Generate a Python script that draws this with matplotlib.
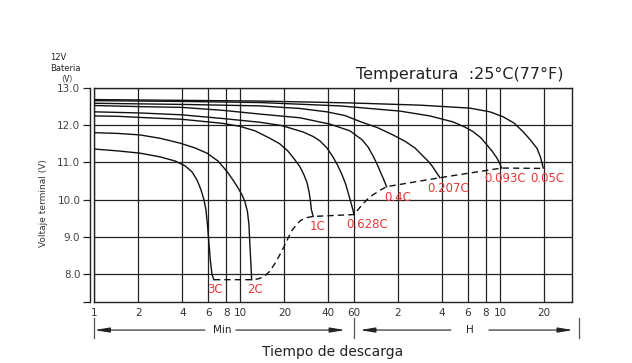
import numpy as np
import matplotlib.pyplot as plt

plt.rcParams['font.family'] = ['DejaVu Sans']

# discharge curves: time in minutes, terminal voltage in V
t_3c = [1.0, 1.449, 2.05, 2.81, 3.56, 4.17, 4.65, 5.04, 5.36, 5.62, 5.80, 5.94, 6.09, 6.23, 6.38, 6.58]
v_3c = [11.36, 11.31, 11.25, 11.15, 11.04, 10.91, 10.75, 10.53, 10.27, 10.0, 9.73, 9.33, 8.79, 8.34, 7.99, 7.85]

t_2c = [1.0, 1.449, 2.05, 2.81, 3.85, 4.88, 5.90, 7.01, 8.08, 8.88, 9.61, 10.24, 10.74, 11.16,
        11.43, 11.6, 11.80, 11.93]
v_2c = [11.80, 11.78, 11.74, 11.65, 11.52, 11.39, 11.25, 11.04, 10.76, 10.53, 10.32, 10.13, 9.94, 9.68,
        9.33, 8.79, 8.25, 7.85]

t_1c = [1.0, 1.449, 2.05, 3.97, 7.59, 9.92, 12.57, 15.9, 18.6, 21.1, 23.6, 25.6, 27.2, 28.6,
        29.5, 30.2, 30.6, 31.5]
v_1c = [12.25, 12.24, 12.21, 12.16, 12.05, 11.97, 11.85, 11.65, 11.50, 11.31, 11.07, 10.88, 10.67, 10.45,
        10.21, 9.94, 9.73, 9.55]

t_0628c = [1.0, 2.05, 3.97, 7.59, 13.6, 19.2, 26.8, 31.4, 35.0, 39.1, 43.0, 46.5, 49.6, 52.4,
           54.9, 57.1, 58.9, 59.9]
v_0628c = [12.36, 12.33, 12.28, 12.18, 12.08, 11.99, 11.82, 11.70, 11.58, 11.39, 11.15, 10.91, 10.67, 10.43,
           10.16, 9.92, 9.73, 9.60]

t_04c = [1.0, 2.05, 3.97, 7.59, 13.6, 25.6, 41.0, 56.2, 68.0, 74.7, 80.8, 86.1, 90.3, 94.6, 100.3]
v_04c = [12.53, 12.50, 12.48, 12.40, 12.30, 12.20, 12.03, 11.85, 11.61, 11.42, 11.18, 10.96, 10.77, 10.59, 10.35]

t_0207c = [1.0, 3.97, 13.6, 25.6, 39.1, 52.0, 65.9, 87.5, 110.8, 133.9, 156.8, 175.0, 192.4, 205.0,
           218.3, 232.5]
v_0207c = [12.59, 12.56, 12.52, 12.45, 12.36, 12.26, 12.10, 11.93, 11.74, 11.57, 11.39, 11.20, 11.04, 10.91,
           10.75, 10.59]

t_0093c = [1.0, 3.97, 13.6, 48.0, 123.8, 198.6, 285.5, 345.0, 391.3, 444.0, 487.7, 528.0, 571.0,
           599.0, 615.0]
v_0093c = [12.66, 12.64, 12.61, 12.52, 12.38, 12.25, 12.09, 11.95, 11.83, 11.66, 11.47, 11.31, 11.12,
           10.96, 10.85]

t_005c = [1.0, 13.6, 56.2, 169.6, 373.0, 511.6, 628.0, 747.0, 861.0, 961.0, 1074.0, 1134.0, 1186.0]
v_005c = [12.69, 12.65, 12.60, 12.54, 12.46, 12.36, 12.23, 12.06, 11.83, 11.62, 11.38, 11.15, 10.85]

# final (cut-off) voltage line
t_cut = [6.58, 11.93, 13.18, 14.49, 15.9, 17.2, 18.6, 19.9, 21.1, 22.5, 24.0, 25.6, 27.7, 31.5,
         59.9, 63.8, 68.0, 73.5, 80.8, 90.3, 100.3, 232.5, 615.0, 1186.0]
v_cut = [7.85, 7.85, 7.87, 7.93, 8.08, 8.28, 8.52, 8.74, 8.95, 9.17, 9.31, 9.43, 9.51, 9.55,
         9.60, 9.73, 9.86, 10.0, 10.13, 10.25, 10.35, 10.59, 10.85, 10.84]

rates = ['3C', '2C', '1C', '0.628C', '0.4C', '0.207C', '0.093C', '0.05C']
# label offset from curve end, in pixels
label_off = [(1, -10), (3, -10), (4, -10), (13, -10), (11, -11), (8, -11), (3, -10), (4, -10)]

x_ticks = [1, 2, 4, 6, 8, 10, 20, 40, 60, 120, 240, 360, 480, 600, 1200]
x_labels = ['1', '2', '4', '6', '8', '10', '20', '40', '60', '2', '4', '6', '8', '10', '20']
y_ticks = [8, 9, 10, 11, 12, 13]

curves = [(t_3c, v_3c), (t_2c, v_2c), (t_1c, v_1c), (t_0628c, v_0628c),
          (t_04c, v_04c), (t_0207c, v_0207c), (t_0093c, v_0093c), (t_005c, v_005c)]

red = '#e8383a'
ink = '#222222'

fig = plt.figure(figsize=(6.32, 3.63), dpi=100)
ax = fig.add_axes([0.1495, 0.168, 0.7555, 0.5895])

ax.set_xscale('log')
ax.set_xlim(1, 1865)
ax.set_ylim(7.25, 13.0)

ax.set_xticks(x_ticks)
ax.set_xticklabels(x_labels)
ax.xaxis.set_minor_locator(plt.NullLocator())
ax.set_yticks(y_ticks)
ax.set_yticklabels(['%.1f' % v for v in y_ticks])
ax.set_yticks([7.25], minor=True)

ax.grid(True, which='major', color=ink, lw=0.9)
ax.axvline(1, color=ink, lw=1.0, clip_on=False)
ax.tick_params(axis='x', length=0, pad=4, labelsize=7.5, labelcolor='#333333')
ax.tick_params(axis='y', which='both', direction='out', length=5, width=0.9,
               pad=2, labelsize=7.5, labelcolor='#444444', color=ink)
ax.spines['left'].set_position(('outward', 3.2))
for s in ax.spines.values():
    s.set_color(ink)
    s.set_linewidth(1.0)

for (t, v), name, off in zip(curves, rates, label_off):
    ax.plot(t, v, color='#111111', lw=1.0, solid_joinstyle='round')
    ax.annotate(name, xy=(t[-1], v[-1]), xytext=off, textcoords='offset pixels',
                ha='center', va='center', color=red, fontsize=8.5)

ax.plot(t_cut, v_cut, color='#111111', lw=1.0, dashes=(4.5, 3))

# Min / H time bands under the axis
tr = ax.get_xaxis_transform()
yb = -0.131
head = dict(arrowstyle='-|>,head_length=0.9,head_width=0.15', color=ink, lw=0.8,
            shrinkA=0, shrinkB=0)
for a, b in [(5.7, 1.0), (9.3, 52.0), (276.5, 65.9), (503.0, 1893.0)]:
    ax.annotate('', xy=(b, yb), xytext=(a, yb), xycoords=tr, arrowprops=head,
                annotation_clip=False)
for xb in [1.0, 60.0, 2082.0]:
    ax.plot([xb, xb], [-0.075, -0.168], transform=tr, color='#555555', lw=0.9, clip_on=False)
ax.text(7.47, yb, 'Min', transform=tr, ha='center', va='center', fontsize=7.5, color=ink)
ax.text(373, yb, 'H', transform=tr, ha='center', va='center', fontsize=7.5, color=ink)

fig.text(0.527, 0.030, 'Tiempo de descarga', ha='center', va='center', fontsize=10, color=ink)
fig.text(0.0696, 0.441, 'Voltaje terminal (V)', rotation=90, ha='center', va='center',
         fontsize=6.5, color='#333333')
fig.text(0.563, 0.796, 'Temperatura  :25°C(77°F)', ha='left', va='center', fontsize=11.5, color=ink)
fig.text(0.080, 0.841, '12V', ha='left', va='center', fontsize=6, color=ink)
fig.text(0.080, 0.812, 'Bateria', ha='left', va='center', fontsize=6, color=ink)
fig.text(0.1055, 0.784, '（V）', ha='center', va='center', fontsize=6, color=ink,
         family=['Noto Sans CJK SC', 'DejaVu Sans'])

fig.savefig('out.png', dpi=100)
